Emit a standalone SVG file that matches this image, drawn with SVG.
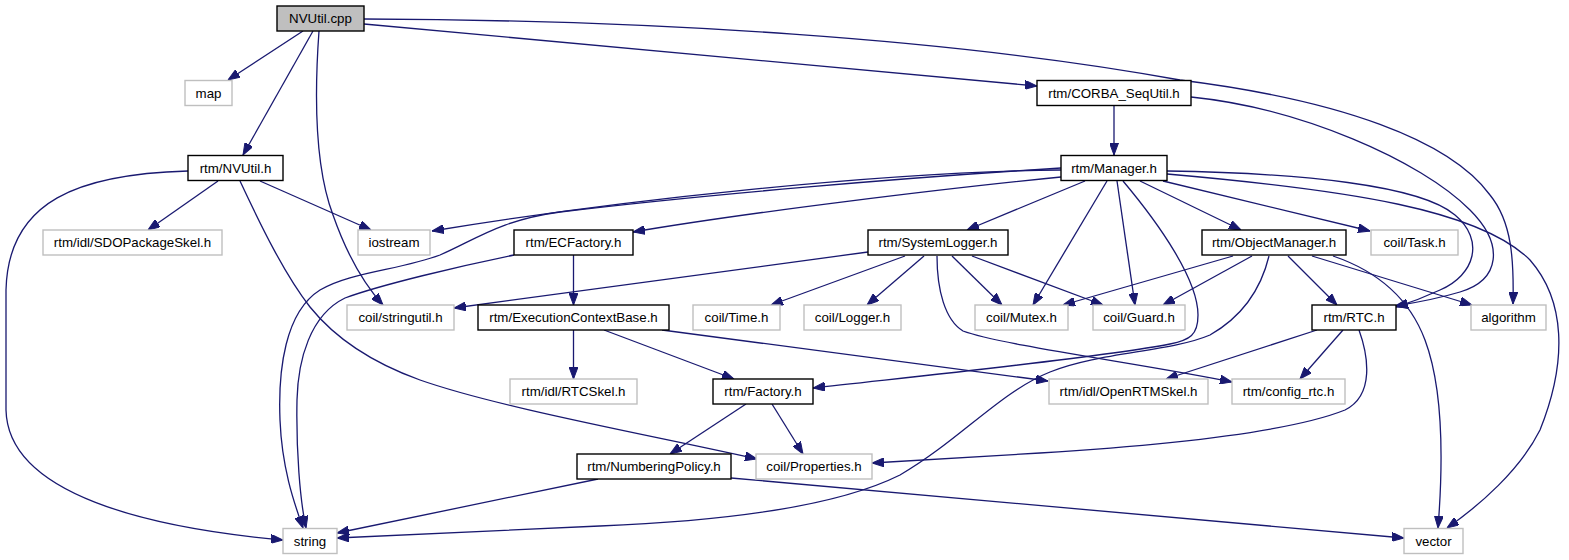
<svg xmlns="http://www.w3.org/2000/svg" width="1569" height="560" viewBox="0 0 1569 560">
<style>
.n rect{fill:#fff;stroke:#000;stroke-width:1.4}
.g rect{fill:#fff;stroke:#bfbfbf;stroke-width:1.4}
.r rect{fill:#bfbfbf;stroke:#000;stroke-width:1.4}
text{font-family:"Liberation Sans",Arial,sans-serif;font-size:13.3px;fill:#000;text-anchor:middle}
#edges path{fill:none;stroke:#191970;stroke-width:1.3;marker-end:url(#a)}
</style>
<defs>
<marker id="a" markerUnits="userSpaceOnUse" markerWidth="12" markerHeight="9" refX="12" refY="4.5" orient="auto">
<path d="M0,0 L12,4.5 L0,9 z" fill="#191970" stroke="#191970" stroke-width="1"/>
</marker>
</defs>
<rect width="1569" height="560" fill="#fff"/>
<g id="edges">
<path d="M303,31 L228,80"/>
<path d="M313,31 L243,155"/>
<path d="M319,31 C314,100 316,170 333,215 C346,252 362,282 383,305"/>
<path d="M364,24 L1037,86"/>
<path d="M364,19 C650,20 950,38 1180,80 C1340,100 1450,140 1490,195 C1512,222 1514,260 1513,304"/>
<path d="M188,171 C80,174 8,200 6,290 L6,410 C8,495 150,528 283,540"/>
<path d="M218,181 L148,230"/>
<path d="M260,181 L371,230"/>
<path d="M240,181 C262,228 285,275 310,307 C335,338 370,362 420,380 C500,408 650,435 757,459"/>
<path d="M1114,106 L1114,155"/>
<path d="M1191,97 C1300,108 1420,160 1470,210 C1505,245 1500,280 1460,292 C1440,298 1420,302 1395,306"/>
<path d="M1061,170 C880,172 620,200 432,231"/>
<path d="M1061,168 C900,178 700,195 560,212 C500,220 475,240 440,255 C400,270 350,272 320,290 C285,312 278,370 280,420 C282,470 295,505 303,528"/>
<path d="M1061,177 C950,188 750,212 633,232"/>
<path d="M1085,181 L967,230"/>
<path d="M1107,181 L1033,305"/>
<path d="M1117,181 L1135,305"/>
<path d="M1123,181 C1160,225 1198,280 1198,315 C1198,335 1190,340 1170,344 C1100,358 900,378 813,388"/>
<path d="M1140,181 L1241,230"/>
<path d="M1163,181 L1370,231"/>
<path d="M1167,171 C1300,173 1420,185 1455,215 C1485,240 1475,275 1440,290 C1425,297 1412,302 1396,307"/>
<path d="M1167,174 C1350,190 1480,210 1530,260 C1565,300 1568,360 1540,430 C1520,470 1480,505 1447,528"/>
<path d="M514,255 C460,266 380,285 345,298 C310,315 298,360 297,400 C296,450 300,500 306,528"/>
<path d="M573.5,255 L573.5,305"/>
<path d="M868,252 L454,308"/>
<path d="M905,256 L771,305"/>
<path d="M924,256 L867,305"/>
<path d="M952,256 L1002,305"/>
<path d="M972,256 L1103,305"/>
<path d="M937,256 C937,290 945,320 963,331 C1000,345 1150,365 1232,382"/>
<path d="M573.5,330 L573.5,379"/>
<path d="M604,330 L734,379"/>
<path d="M662,330 L1048,381"/>
<path d="M1233,256 L1063,305"/>
<path d="M1252,256 L1163,305"/>
<path d="M1288,256 L1337,305"/>
<path d="M1312,256 L1472,305"/>
<path d="M1333,256 C1380,272 1410,300 1425,340 C1440,380 1445,440 1438,528"/>
<path d="M1269,256 C1262,285 1245,315 1210,335 C1170,352 1100,352 1050,372 C1000,392 960,440 900,475 C830,510 700,522 600,526 C500,530 400,535 337,538"/>
<path d="M1317,330 L1166,379"/>
<path d="M1343,330 L1300,379"/>
<path d="M1359,330 C1368,355 1375,395 1345,410 C1300,428 1200,443 1040,453 C960,458 910,461 872,463"/>
<path d="M746,404 L670,454"/>
<path d="M772,404 L803,454"/>
<path d="M598,479 L337,533"/>
<path d="M731,478 L1404,538"/>
</g>
<g id="n_nvutil_cpp" class="r"><rect x="277" y="6" width="87" height="25"/><text x="320.5" y="23">NVUtil.cpp</text></g>
<g id="n_map" class="g"><rect x="185" y="80.5" width="47" height="25"/><text x="208.5" y="97.5">map</text></g>
<g id="n_corba" class="n"><rect x="1037" y="80.5" width="154" height="25"/><text x="1114" y="97.5">rtm/CORBA_SeqUtil.h</text></g>
<g id="n_nvutil_h" class="n"><rect x="188" y="155.5" width="95" height="25"/><text x="235.5" y="172.5">rtm/NVUtil.h</text></g>
<g id="n_manager" class="n"><rect x="1061" y="155.5" width="106" height="25"/><text x="1114" y="172.5">rtm/Manager.h</text></g>
<g id="n_sdo" class="g"><rect x="43" y="230" width="179" height="25"/><text x="132.5" y="247">rtm/idl/SDOPackageSkel.h</text></g>
<g id="n_iostream" class="g"><rect x="358" y="230" width="72" height="25"/><text x="394" y="247">iostream</text></g>
<g id="n_ecfactory" class="n"><rect x="514" y="230" width="119" height="25"/><text x="573.5" y="247">rtm/ECFactory.h</text></g>
<g id="n_syslogger" class="n"><rect x="868" y="230" width="140" height="25"/><text x="938" y="247">rtm/SystemLogger.h</text></g>
<g id="n_objmgr" class="n"><rect x="1202" y="230" width="144" height="25"/><text x="1274" y="247">rtm/ObjectManager.h</text></g>
<g id="n_task" class="g"><rect x="1371" y="230" width="87" height="25"/><text x="1414.5" y="247">coil/Task.h</text></g>
<g id="n_stringutil" class="g"><rect x="347" y="305" width="107" height="25"/><text x="400.5" y="322">coil/stringutil.h</text></g>
<g id="n_ecbase" class="n"><rect x="478" y="305" width="191" height="25"/><text x="573.5" y="322">rtm/ExecutionContextBase.h</text></g>
<g id="n_time" class="g"><rect x="693" y="305" width="87" height="25"/><text x="736.5" y="322">coil/Time.h</text></g>
<g id="n_logger" class="g"><rect x="804" y="305" width="97" height="25"/><text x="852.5" y="322">coil/Logger.h</text></g>
<g id="n_mutex" class="g"><rect x="975" y="305" width="93" height="25"/><text x="1021.5" y="322">coil/Mutex.h</text></g>
<g id="n_guard" class="g"><rect x="1093" y="305" width="92" height="25"/><text x="1139" y="322">coil/Guard.h</text></g>
<g id="n_rtc" class="n"><rect x="1312" y="305" width="84" height="25"/><text x="1354" y="322">rtm/RTC.h</text></g>
<g id="n_algorithm" class="g"><rect x="1471" y="305" width="75" height="25"/><text x="1508.5" y="322">algorithm</text></g>
<g id="n_rtcskel" class="g"><rect x="510" y="379" width="127" height="25"/><text x="573.5" y="396">rtm/idl/RTCSkel.h</text></g>
<g id="n_factory" class="n"><rect x="713" y="379" width="100" height="25"/><text x="763" y="396">rtm/Factory.h</text></g>
<g id="n_openrtm" class="g"><rect x="1049" y="379" width="159" height="25"/><text x="1128.5" y="396">rtm/idl/OpenRTMSkel.h</text></g>
<g id="n_config" class="g"><rect x="1232" y="379" width="113" height="25"/><text x="1288.5" y="396">rtm/config_rtc.h</text></g>
<g id="n_numbering" class="n"><rect x="577" y="454" width="154" height="25"/><text x="654" y="471">rtm/NumberingPolicy.h</text></g>
<g id="n_properties" class="g"><rect x="756" y="454" width="116" height="25"/><text x="814" y="471">coil/Properties.h</text></g>
<g id="n_string" class="g"><rect x="283" y="528.5" width="54" height="25"/><text x="310" y="545.5">string</text></g>
<g id="n_vector" class="g"><rect x="1404" y="528.5" width="59" height="25"/><text x="1433.5" y="545.5">vector</text></g>
</svg>
